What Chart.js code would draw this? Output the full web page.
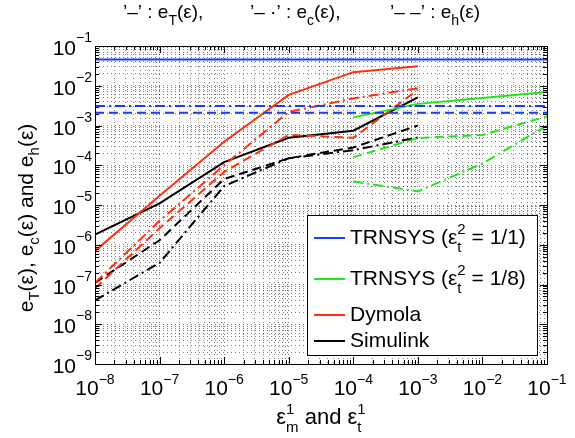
<!DOCTYPE html>
<html>
<head>
<meta charset="utf-8">
<script src="https://cdn.jsdelivr.net/npm/chart.js@4.4.0/dist/chart.umd.min.js"></script>
<style>
body { margin: 0; background: #fff; }
</style>
</head>
<body>
<canvas id="grafico" width="575" height="438"></canvas>
<script>
// valores (x = epsilon, y = error)
var xSim = [1e-8, 1e-7, 1e-6, 1e-5, 1e-4, 1e-3];
var dymolaT = [7e-7, 1.7e-5, 3.9e-4, 5.9e-3, 2.2e-2, 3.1e-2];
var dymolaC = [1.1e-7, 4e-6, 1e-4, 2.2e-3, 4.8e-3, 8.7e-3];
var dymolaH = [8e-8, 2.6e-6, 6.8e-5, 5.8e-4, 4.9e-4, 7.9e-3];
var simulinkT = [1.8e-6, 1.1e-5, 1.2e-4, 4.9e-4, 7.4e-4, 5.1e-3];
var simulinkC = [4e-8, 3.5e-7, 3e-5, 1.5e-4, 2.4e-4, 5e-4];
var simulinkH = [1.1e-7, 1.3e-6, 4.5e-5, 1.5e-4, 2.8e-4, 1e-3];

var xTrn1 = [1e-8, 1e-1];
var trn1T = [4.6e-2, 4.6e-2];
var trn1C = [3.1e-3, 3.1e-3];
var trn1H = [2.1e-3, 2.1e-3];

var xTrn8 = [1e-4, 1e-3, 1e-2, 1e-1];
var trn8T = [1.6e-3, 3.5e-3, 4.9e-3, 7e-3];
var trn8C = [3.9e-5, 2.2e-5, 1.1e-4, 1e-3];
var trn8H = [1.6e-4, 4.8e-4, 5.8e-4, 1.7e-3];

var xExp = [-8, -7, -6, -5, -4, -3, -2, -1];
var yExp = [-9, -8, -7, -6, -5, -4, -3, -2, -1];

var FONT = '"Liberation Sans", Arial, Helvetica, sans-serif';
var AZUL = '#1a3cff', VERDE = '#22e61a', ROJO = '#ff3010', NEGRO = '#000000';
var SOLIDA = [], PUNTORAYA = [10, 4, 2, 4], RAYAS = [9, 5];

function puntos(xs, ys) {
    var p = [];
    for (var i = 0; i < xs.length; i++) p.push({x: xs[i], y: ys[i]});
    return p;
}

function serie(xs, ys, color, dash) {
    return {
        data: puntos(xs, ys),
        borderColor: color,
        borderDash: dash,
        borderWidth: 2,
        pointRadius: 0,
        fill: false,
        tension: 0
    };
}

function logTicks(lo, hi) {
    var t = [];
    for (var e = lo; e < hi; e++) {
        for (var m = 1; m < 10; m++) t.push({value: m * Math.pow(10, e)});
    }
    t.push({value: Math.pow(10, hi)});
    return t;
}

// texto con sub/superindices: partes = [[texto, tipo, texto2]]
function texto(ctx, partes, x, y, align, o) {
    var size = o.size, small = o.small;
    var ws = [], w = 0;
    partes.forEach(function(p) {
        var pw;
        if (!p[1]) { ctx.font = size + 'px ' + FONT; pw = ctx.measureText(p[0]).width; }
        else if (p[1] == 'stack') {
            ctx.font = small + 'px ' + FONT;
            pw = Math.max(ctx.measureText(p[0]).width, ctx.measureText(p[2]).width);
        } else { ctx.font = small + 'px ' + FONT; pw = ctx.measureText(p[0]).width; }
        ws.push(pw); w += pw;
    });
    var cx = align == 'center' ? x - w / 2 : (align == 'right' ? x - w : x);
    ctx.textAlign = 'left';
    ctx.textBaseline = 'alphabetic';
    partes.forEach(function(p, i) {
        if (!p[1]) { ctx.font = size + 'px ' + FONT; ctx.fillText(p[0], cx, y); }
        else {
            ctx.font = small + 'px ' + FONT;
            if (p[1] == 'sup') ctx.fillText(p[0], cx, y + o.sup);
            if (p[1] == 'sub') ctx.fillText(p[0], cx, y + o.sub);
            if (p[1] == 'stack') {
                ctx.fillText(p[0], cx, y + o.sup);
                ctx.fillText(p[2], cx, y + o.sub);
            }
        }
        cx += ws[i];
    });
}

var marcos = {
    id: 'marcos',
    afterDraw: function(chart) {
        var ctx = chart.ctx;
        var a = chart.chartArea;
        var sx = chart.scales.x, sy = chart.scales.y;
        ctx.save();
        ctx.strokeStyle = '#000';
        ctx.fillStyle = '#000';
        ctx.lineWidth = 1;
        ctx.setLineDash([]);

        // ticks interiores
        ctx.beginPath();
        sx.ticks.forEach(function(t) {
            var px = Math.round(sx.getPixelForValue(t.value)) + 0.5;
            var mayor = Math.abs(Math.log10(t.value) - Math.round(Math.log10(t.value))) < 1e-6;
            var l = mayor ? 7 : 4;
            ctx.moveTo(px, a.bottom); ctx.lineTo(px, a.bottom - l);
            ctx.moveTo(px, a.top); ctx.lineTo(px, a.top + l);
        });
        sy.ticks.forEach(function(t) {
            var py = Math.round(sy.getPixelForValue(t.value)) + 0.5;
            var mayor = Math.abs(Math.log10(t.value) - Math.round(Math.log10(t.value))) < 1e-6;
            var l = mayor ? 7 : 4;
            ctx.moveTo(a.left, py); ctx.lineTo(a.left + l, py);
            ctx.moveTo(a.right, py); ctx.lineTo(a.right - l, py);
        });
        ctx.stroke();
        ctx.strokeRect(Math.round(a.left) + 0.5, Math.round(a.top) + 0.5,
            Math.round(a.right - a.left), Math.round(a.bottom - a.top));

        // etiquetas de los ejes
        xExp.forEach(function(e) {
            var px = sx.getPixelForValue(Math.pow(10, e));
            texto(ctx, [['10', ''], ['\u2212' + (-e), 'sup']], px, 395, 'center',
                {size: 21, small: 14, sup: -11, sub: 0});
        });
        yExp.forEach(function(e) {
            var py = sy.getPixelForValue(Math.pow(10, e));
            texto(ctx, [['10', ''], ['\u2212' + (-e), 'sup']], 92, py + 9, 'right',
                {size: 21, small: 14, sup: -13, sub: 0});
        });

        // titulo de arriba
        var ot = {size: 19, small: 14, sup: 0, sub: 7};
        texto(ctx, [['\u2019\u2013\u2019 : e', ''], ['T', 'sub'], ['(\u03b5),', '']], 123, 18, 'left', ot);
        texto(ctx, [['\u2019\u2013 \u00b7\u2019 : e', ''], ['c', 'sub'], ['(\u03b5),', '']], 250, 18, 'left', ot);
        texto(ctx, [['\u2019\u2013 \u2013\u2019 : e', ''], ['h', 'sub'], ['(\u03b5)', '']], 390, 18, 'left', ot);

        // titulo eje x
        texto(ctx, [['\u03b5', ''], ['1', 'stack', 'm'], [' and \u03b5', ''], ['1', 'stack', 't']],
            (a.left + a.right) / 2, 424, 'center', {size: 22, small: 15, sup: -10, sub: 8});

        // titulo eje y
        ctx.save();
        ctx.translate(33, 218);
        ctx.rotate(-Math.PI / 2);
        texto(ctx, [['e', ''], ['T', 'sub'], ['(\u03b5), e', ''], ['c', 'sub'], ['(\u03b5) and e', ''], ['h', 'sub'], ['(\u03b5)', '']],
            0, 0, 'center', {size: 21, small: 15, sup: 0, sub: 6});
        ctx.restore();

        // leyenda
        ctx.fillStyle = '#fff';
        ctx.fillRect(307, 215, 230, 140);
        ctx.strokeRect(307.5, 215.5, 230, 140);
        var items = [
            {c: AZUL, y: 238, t: [['TRNSYS (\u03b5', ''], ['2', 'stack', 't'], [' = 1/1)', '']]},
            {c: VERDE, y: 279, t: [['TRNSYS (\u03b5', ''], ['2', 'stack', 't'], [' = 1/8)', '']]},
            {c: ROJO, y: 315, t: [['Dymola', '']]},
            {c: NEGRO, y: 341, t: [['Simulink', '']]}
        ];
        items.forEach(function(it) {
            ctx.strokeStyle = it.c;
            ctx.lineWidth = 2;
            ctx.beginPath();
            ctx.moveTo(314, it.y); ctx.lineTo(345, it.y);
            ctx.stroke();
            ctx.fillStyle = '#000';
            texto(ctx, it.t, 350, it.y + 6, 'left', {size: 21, small: 15, sup: -10, sub: 8});
        });
        ctx.restore();
    }
};

var ctx = document.getElementById('grafico').getContext('2d');
var myChart = new Chart(ctx, {
    type: 'line',
    data: {
        datasets: [
            serie(xTrn1, trn1T, AZUL, SOLIDA),
            serie(xTrn1, trn1C, AZUL, PUNTORAYA),
            serie(xTrn1, trn1H, AZUL, RAYAS),
            serie(xTrn8, trn8T, VERDE, SOLIDA),
            serie(xTrn8, trn8C, VERDE, PUNTORAYA),
            serie(xTrn8, trn8H, VERDE, RAYAS),
            serie(xSim, dymolaT, ROJO, SOLIDA),
            serie(xSim, dymolaC, ROJO, PUNTORAYA),
            serie(xSim, dymolaH, ROJO, RAYAS),
            serie(xSim, simulinkT, NEGRO, SOLIDA),
            serie(xSim, simulinkC, NEGRO, PUNTORAYA),
            serie(xSim, simulinkH, NEGRO, RAYAS)
        ]
    },
    options: {
        responsive: false,
        animation: false,
        devicePixelRatio: 1,
        layout: { padding: { left: 95, top: 46, right: 28, bottom: 74 } },
        plugins: { legend: { display: false }, tooltip: { enabled: false } },
        scales: {
            x: {
                type: 'logarithmic',
                min: 1e-8, max: 1e-1,
                afterBuildTicks: function(scale) { scale.ticks = logTicks(-8, -1); },
                ticks: { display: false },
                grid: { color: 'rgba(0,0,0,0.5)', drawTicks: false },
                border: { display: false, dash: [1, 3] }
            },
            y: {
                type: 'logarithmic',
                min: 1e-9, max: 1e-1,
                afterBuildTicks: function(scale) { scale.ticks = logTicks(-9, -1); },
                ticks: { display: false },
                grid: { color: 'rgba(0,0,0,0.5)', drawTicks: false },
                border: { display: false, dash: [1, 3] }
            }
        }
    },
    plugins: [marcos]
});
</script>
</body>
</html>
